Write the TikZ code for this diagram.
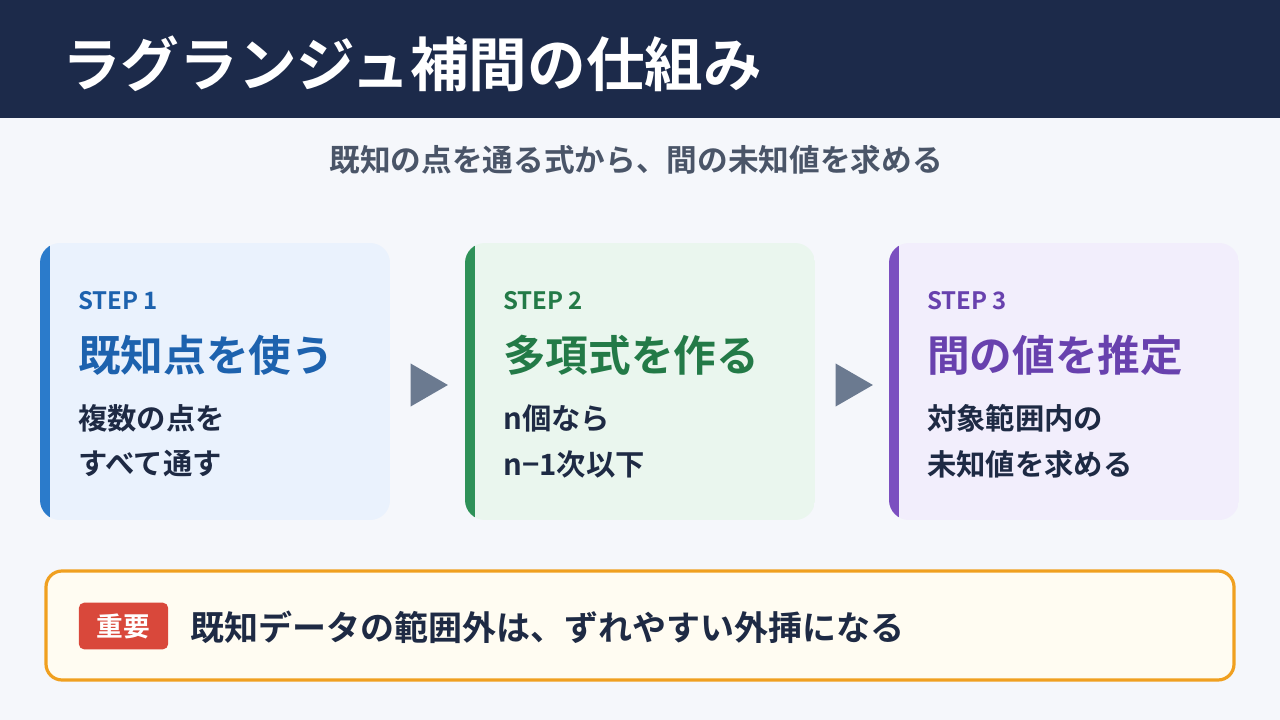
\documentclass[tikz,border=0pt]{standalone}
\usepackage{fontspec}
\setmainfont{Noto Sans CJK JP}[BoldFont={* Bold}]
\usetikzlibrary{positioning,shapes.geometric}
\definecolor{navy}{HTML}{1C2A4A}
\definecolor{bgpage}{HTML}{F5F7FB}
\definecolor{subgray}{HTML}{4A5568}
\definecolor{inkdark}{HTML}{1E2A44}
\definecolor{blueacc}{HTML}{2B7BCB}
\definecolor{bluetext}{HTML}{1D62AE}
\definecolor{bluefill}{HTML}{EAF2FD}
\definecolor{greenacc}{HTML}{2E9158}
\definecolor{greentext}{HTML}{237A47}
\definecolor{greenfill}{HTML}{EAF6EE}
\definecolor{purpacc}{HTML}{7B4FC0}
\definecolor{purptext}{HTML}{6841AE}
\definecolor{purpfill}{HTML}{F2EEFC}
\definecolor{arrowgray}{HTML}{6B7A90}
\definecolor{notefill}{HTML}{FFFCF2}
\definecolor{noteedge}{HTML}{F0A020}
\definecolor{badgered}{HTML}{D9483B}
\tikzset{
  steplabel/.style={anchor=west,inner sep=0pt,font=\fontsize{18}{21}\selectfont\bfseries},
  stephead/.style={anchor=west,inner sep=0pt,font=\fontsize{32}{38}\selectfont\bfseries},
  stepbody/.style={anchor=west,inner sep=0pt,text=inkdark,font=\fontsize{22}{26}\selectfont\bfseries},
  nextarrow/.style={isosceles triangle,isosceles triangle apex angle=60,fill=arrowgray,
    inner sep=0pt,minimum height=28pt,minimum width=30pt}
}
% card: x-left, color name stem, step, heading, line1, line2
\newcommand{\stepcard}[6]{
  \begin{scope}
    \clip[rounded corners=15pt] (#1,243) rectangle ++(350,277);
    \fill[#2fill] (#1,243) rectangle ++(350,277);
    \fill[#2acc] (#1,243) rectangle ++(10,277);
  \end{scope}
  \node[steplabel,text=#2text] (step#3) at (#1+38,301) {STEP #3};
  \node[stephead,text=#2text] (head#3) at (#1+38,355) {#4};
  \node[stepbody] (bodya#3) at (#1+38,418) {#5};
  \node[stepbody] (bodyb#3) at (#1+38,464) {#6};
}
\begin{document}
\begin{tikzpicture}[x=0.75pt,y=-0.75pt]
  \fill[bgpage] (0,0) rectangle (1280,720);
  \fill[navy] (0,0) rectangle (1280,118);
  \node[anchor=west,inner sep=0pt,text=white,font=\fontsize{44}{50}\selectfont\bfseries] (title) at (62,64) {ラグランジュ補間の仕組み};
  \node[text=subgray,font=\fontsize{23}{27}\selectfont\bfseries] (subtitle) at (636,160) {既知の点を通る式から、間の未知値を求める};

  \stepcard{40}{blue}{1}{既知点を使う}{複数の点を}{すべて通す}
  \stepcard{465}{green}{2}{多項式を作る}{n個なら}{n−1次以下}
  \stepcard{889}{purp}{3}{間の値を推定}{対象範囲内の}{未知値を求める}

  \node[nextarrow] (arrow1) at (423,385) {};
  \node[nextarrow] (arrow2) at (848,385) {};

  \draw[noteedge,line width=2.4pt,fill=notefill,rounded corners=12pt] (46,571) rectangle (1234,680);
  \node[fill=badgered,text=white,rounded corners=4pt,minimum width=67pt,minimum height=35pt,
    font=\fontsize{20}{24}\selectfont\bfseries] (badge) at (123.5,626) {重要};
  \node[anchor=west,inner sep=0pt,text=inkdark,font=\fontsize{25.5}{30}\selectfont\bfseries] (note) at (190,627) {既知データの範囲外は、ずれやすい外挿になる};
\end{tikzpicture}
\end{document}
